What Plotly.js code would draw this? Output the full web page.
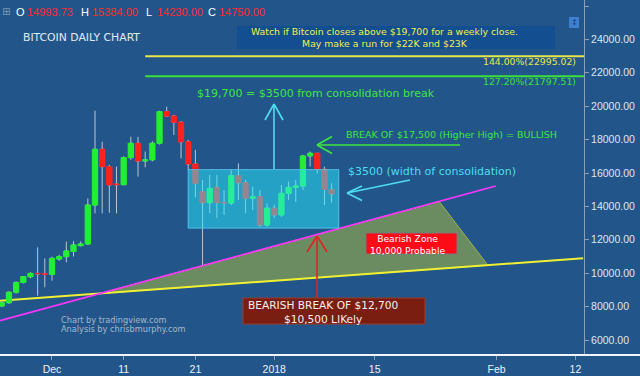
<!DOCTYPE html>
<html><head><meta charset="utf-8">
<script src="https://cdn.plot.ly/plotly-3.0.1.min.js"></script>
<style>html,body{margin:0;padding:0;background:#22568a;}#chart{width:640px;height:376px;}</style>
</head><body><div id="chart"></div>
<script>
// ---- candle data ----
const dates = ['2017-11-24','2017-11-25','2017-11-26','2017-11-27','2017-11-28','2017-11-29','2017-11-30',
 '2017-12-01','2017-12-02','2017-12-03','2017-12-04','2017-12-05','2017-12-06','2017-12-07','2017-12-08',
 '2017-12-09','2017-12-10','2017-12-11','2017-12-12','2017-12-13','2017-12-14','2017-12-15','2017-12-16',
 '2017-12-17','2017-12-18','2017-12-19','2017-12-20','2017-12-21','2017-12-22','2017-12-23','2017-12-24',
 '2017-12-25','2017-12-26','2017-12-27','2017-12-28','2017-12-29','2017-12-30','2017-12-31','2018-01-01',
 '2018-01-02','2018-01-03','2018-01-04','2018-01-05','2018-01-06','2018-01-07','2018-01-08','2018-01-09'];
const open  = [8040,8230,8860,9450,9790,9990,9960, 9930,10850,10990,11300,11650,11750,14080,17420,
 16380,15340,15300,16920,17780,16720,16790,17780, 19670,19410,19040,17870,16540,14880,14220,15140,
 14240,14200,15840,15420,14490,14580,12890,13890, 13490,14780,15140,15220,17020,17180,16220,14993.73];
const high  = [8280,8900,9500,9820,10050,11550,10890, 10990,11100,11890,11920,11900,14480,19730,17870,
 16480,16380,17000,18170,18170,17280,17900,19730, 19970,19470,19100,17980,17380,15580,15880,15880,
 14980,16180,16580,15580,15180,14980,14180,14100, 15280,15480,15580,17080,17280,17200,16380,15384];
const low   = [7990,8180,8780,9380,9700,8650,9160, 9550,10750,10650,11000,11600,11700,13590,13590,
 13620,13590,15280,16780,15780,16340,16700,17700, 19370,18280,16880,16180,14540,10490,13590,13290,
 13490,14080,14380,13590,13780,12780,12780,13300, 13380,14380,14280,14980,16380,15980,14080,14230];
const close = [8230,8860,9450,9790,9990,9960,9930, 10890,10990,11330,11690,11750,14080,17420,16380,
 15280,15300,16920,17780,16720,16790,17780,19670, 19410,19040,17870,16540,15380,14220,15080,14220,
 14200,15840,15420,14490,14580,12890,13890,13490, 14780,15140,15220,17020,17180,16220,15020,14750];

// ---- axes ----
const xTickDates  = ['2017-12-01','2017-12-11','2017-12-21','2018-01-01','2018-01-15','2018-02-01','2018-02-12'];
const xTickLabels = ['Dec','11','21','2018','15','Feb','12'];
const yTickVals   = [6000,8000,10000,12000,14000,16000,18000,20000,22000,24000,26000];

// ---- drawings (in chart coordinates) ----
const magentaDates = ['2017-11-23 18:00','2018-01-31 21:36'];
const magentaVals  = [7156, 15222];
const yellowDates  = ['2017-11-23 18:00','2018-02-13 02:00'];
const yellowVals   = [8353, 10892];
const zoneDates    = ['2017-12-07 18:30','2018-01-24 00:00','2018-01-30 19:00','2017-12-07 18:30'];
const zoneVals     = [8790, 14298, 10476, 8790];
const fibLevels    = [22995.02, 21797.51];
const fibLabels    = ['144.00%(22995.02)','127.20%(21797.51)'];
const fibStart     = '2017-12-14';
const consolDates  = ['2017-12-20','2018-01-10'];
const consolVals   = [12700, 16200];

const FONT = 'Arial, "Liberation Sans", sans-serif';
const VFONT = '"DejaVu Sans", Verdana, sans-serif';
const BG = '#22568a';
const GREEN = '#22ee33', RED = '#ff2020', WICK = '#bcc4ce';
const W = 584, H = 355;
const PX = x => x / W, PY = y => 1 - y / H;
const XR = ['2017-11-23 18:00','2018-02-13 04:48'], YR = [5102, 26359];

const bodyBase = open.map((o,i)=>Math.min(o, close[i]));
const bodyLen  = open.map((o,i)=>Math.abs(close[i]-o));
const bodyCol  = open.map((o,i)=> close[i] >= o ? GREEN : RED);

const traces = [
  {type:'scatter', mode:'lines', x:zoneDates, y:zoneVals, fill:'toself', fillcolor:'#6a8c60',
   line:{color:'#a2b24e', width:1}, hoverinfo:'skip'},
  {type:'scatter', mode:'lines', x:yellowDates, y:yellowVals, line:{color:'#f0f032', width:2}, hoverinfo:'skip'},
  {type:'scatter', mode:'lines', x:magentaDates, y:magentaVals, line:{color:'#ff33ff', width:1.6}, hoverinfo:'skip'},
  {type:'candlestick', xaxis:'x2', yaxis:'y2', x:dates, open:open, high:high, low:low, close:close, whiskerwidth:0,
   increasing:{line:{color:WICK, width:1}, fillcolor:GREEN},
   decreasing:{line:{color:WICK, width:1}, fillcolor:RED}, hoverinfo:'skip'},
  {type:'bar', xaxis:'x3', yaxis:'y3', x:dates, base:bodyBase, y:bodyLen, width:0.74*86400000,
   marker:{color:bodyCol, line:{color:bodyCol, width:1}}, hoverinfo:'skip'}
];

function seg(x0,y0,x1,y1,color,width){
  return {type:'line', xref:'paper', yref:'paper', x0:PX(x0), y0:PY(y0), x1:PX(x1), y1:PY(y1),
          line:{color, width}, layer:'above'};
}
function box(x0,y0,x1,y1,fill,lc,lw){
  return {type:'rect', xref:'paper', yref:'paper', x0:PX(x0), y0:PY(y0), x1:PX(x1), y1:PY(y1),
          fillcolor:fill, line:{color:lc, width:lw}, layer:'above'};
}
function txt(x,y,text,color,size,anchor,fam){
  return {xref:'paper', yref:'paper', x:PX(x), y:PY(y), text, showarrow:false,
          xanchor:anchor||'left', yanchor:'middle', borderpad:0, font:{family:fam||VFONT, color, size}};
}

const CY = '#4fdcf0', GR = '#3ee63e', RD = '#e02424';
const shapes = [
  {type:'line', xref:'x', yref:'y', x0:fibStart, x1:XR[1], y0:fibLevels[0], y1:fibLevels[0], line:{color:'#e6e84a', width:2}, layer:'below'},
  {type:'line', xref:'x', yref:'y', x0:fibStart, x1:XR[1], y0:fibLevels[1], y1:fibLevels[1], line:{color:'#3ce03c', width:2}, layer:'below'},
  {type:'rect', xref:'x', yref:'y', x0:consolDates[0], x1:consolDates[1], y0:consolVals[0], y1:consolVals[1],
   fillcolor:'rgba(40,235,255,0.5)', line:{color:'rgba(90,200,235,0.9)', width:1}, layer:'above'},
  box(237,26,555,49,'#124e90','#124e90',0),
  box(366,233,457,254,'#ff0a16','#7a7a7a',1),
  box(243,298,425,324,'#7a1e12','#9a3a2a',1),
  seg(274,169,274,104,CY,1.6), seg(265,120,274,104,CY,1.6), seg(283,120,274,104,CY,1.6),
  seg(460,145,317,145,GR,1.6), seg(332,136.5,317,145,GR,1.6), seg(332,153.5,317,145,GR,1.6),
  seg(410,180,347,193,CY,1.6), seg(362,186,347,193,CY,1.6), seg(362,200.5,347,193,CY,1.6),
  seg(317,298,317,236,RD,1.6), seg(307,252,317,236,RD,1.6), seg(327,252,317,236,RD,1.6),
  {type:'line', xref:'paper', yref:'paper', x0:0, x1:640/W, y0:0, y1:0, line:{color:'#f2f5f8', width:2}, layer:'above'},
  box(569,17,579,28,'#3f7fcf','#3f7fcf',0)
];

const last = dates.length - 1;
const hdr = [['O',15,open[last]],['H',80,high[last]],['L',145,low[last]],['C',207,close[last]]];
const annotations = [txt(1,12,'⊞','#7d96b2',10)];
hdr.forEach(([k,x,v])=>{
  annotations.push(txt(x,12.3,k,'#ffffff',11,'left',FONT));
  annotations.push(txt(x+10.5,12.3,v.toFixed(2),'#ff2a2a',11,'left',FONT));
});
annotations.push(
  txt(22,37.5,'BITCOIN DAILY CHART','#e2e8f0',10.8),
  txt(384,37.5,'Watch if Bitcoin closes above $19,700 for a weekly close.<br>May make a run for $22K and $23K','#f2f04a',9.3,'center'),
  txt(577,61.5,fibLabels[0],'#e6e84a',9.3,'right'),
  txt(577,81.5,fibLabels[1],'#3ce03c',9.3,'right'),
  txt(196,93.5,'$19,700 = $3500 from consolidation break',GR,11),
  txt(345,134.5,'BREAK OF $17,500 (Higher High) = BULLISH',GR,9.5),
  txt(346.5,171,'$3500 (width of consolidation)',CY,11),
  txt(407,244,'Bearish Zone<br>10,000 Probable','#ffffff',9.2,'center'),
  txt(323,311.5,'BEARISH BREAK OF $12,700<br>$10,500 LIKely','#f4eeee',10.6,'center'),
  txt(60,319.8,'Chart by tradingview.com','#a4b6ca',8.2),
  txt(60,328.5,'Analysis by chrisbmurphy.com','#a4b6ca',8.2),
  txt(574,22.5,'↕','#17407a',8,'center')
);

const hid = {range:YR, visible:false, fixedrange:true};
const layout = {
  width:640, height:376, paper_bgcolor:BG, plot_bgcolor:BG, showlegend:false,
  margin:{l:0, r:56, t:0, b:21, pad:0},
  font:{family:FONT, color:'#e8eef4'},
  xaxis:{type:'date', range:XR, tickvals:xTickDates, ticktext:xTickLabels,
         ticks:'outside', ticklen:4, tickcolor:'#8fa0b4', tickfont:{size:10.5, color:'#eef2f6'},
         showgrid:false, zeroline:false, showline:false, rangeslider:{visible:false}, fixedrange:true},
  yaxis:{side:'right', range:YR, tickvals:yTickVals, tickformat:'.2f',
         ticks:'outside', ticklen:4, tickcolor:'#8fa0b4', tickfont:{size:10.5, color:'#dfe6ee'},
         showline:true, linecolor:'#8fa0b4', linewidth:1, showgrid:false, zeroline:false, fixedrange:true},
  xaxis2:{type:'date', range:XR, overlaying:'x', visible:false, rangeslider:{visible:false}, fixedrange:true},
  yaxis2:Object.assign({overlaying:'y'}, hid),
  xaxis3:{type:'date', range:XR, overlaying:'x', visible:false, fixedrange:true},
  yaxis3:Object.assign({overlaying:'y'}, hid),
  shapes, annotations
};
Plotly.newPlot('chart', traces, layout, {staticPlot:true, displayModeBar:false});
</script></body></html>
